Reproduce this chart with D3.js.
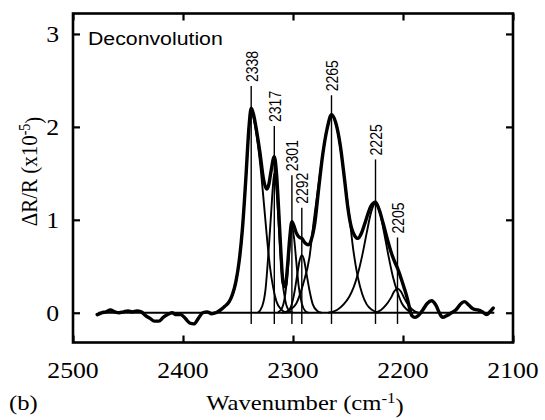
<!DOCTYPE html>
<html>
<head>
<meta charset="utf-8">
<script src="https://cdn.jsdelivr.net/npm/d3@7"></script>
<style>
  body { margin: 0; background: #fff; }
</style>
</head>
<body>
<div id="grafica_deconv"></div>
<script>
// ---- data (wavenumber cm-1, dR/R x1e-5) ----
var xTicks = [2500, 2400, 2300, 2200, 2100];
var yTicks = [0, 1, 2, 3];

var peakPos = [2338, 2317, 2301, 2292, 2265, 2225, 2205];
var peakTop = [2.44, 2.01, 1.48, 1.13, 2.34, 1.65, 0.81];

// measured spectrum (thick line)
var totalW = [2478, 2474, 2470, 2466, 2462, 2458, 2454, 2450, 2446, 2442, 2438, 2434, 2430, 2426, 2422, 2418, 2414, 2410, 2406, 2402,
              2398, 2394, 2390, 2386, 2382, 2378, 2374, 2370, 2366, 2362, 2358, 2355, 2352, 2349, 2346, 2343, 2340, 2338, 2336, 2333,
              2330, 2327, 2324, 2322, 2320, 2317, 2315, 2313, 2311, 2309, 2307, 2305, 2303, 2301, 2299, 2297, 2294, 2292, 2289, 2286,
              2283, 2280, 2277, 2273, 2269, 2265, 2261, 2257, 2253, 2250, 2247, 2244, 2241, 2238, 2235, 2232, 2229, 2225, 2222, 2218,
              2214, 2211, 2208, 2205, 2202, 2199, 2196, 2194, 2192, 2189, 2186, 2182, 2178, 2174, 2170, 2167, 2164, 2160, 2156, 2152,
              2148, 2144, 2140, 2136, 2132, 2128, 2124, 2121, 2118];
var totalV = [-0.02, 0.0, 0.01, 0.03, 0.01, 0.0, 0.01, 0.02, 0.01, 0.02, 0.01, -0.03, -0.06, -0.09, -0.09, -0.05, -0.02, 0.0, -0.02, -0.02,
              -0.06, -0.11, -0.12, -0.06, 0.0, 0.01, -0.01, 0.0, 0.03, 0.07, 0.12, 0.2, 0.33, 0.55, 0.9, 1.42, 2.0, 2.2, 2.14, 1.95,
              1.72, 1.45, 1.33, 1.38, 1.52, 1.68, 1.5, 1.1, 0.65, 0.32, 0.28, 0.5, 0.8, 0.98, 0.93, 0.86, 0.81, 0.8, 0.75, 0.73,
              0.8, 0.98, 1.3, 1.7, 1.98, 2.13, 2.04, 1.8, 1.42, 1.12, 0.92, 0.83, 0.8, 0.85, 0.95, 1.06, 1.15, 1.19, 1.12, 0.96,
              0.78, 0.66, 0.56, 0.48, 0.38, 0.27, 0.15, 0.05, -0.03, -0.05, -0.03, 0.03, 0.1, 0.13, 0.08, 0.0, -0.05, -0.03, 0.0, 0.03,
              0.09, 0.12, 0.08, 0.04, 0.03, 0.01, -0.02, 0.01, 0.05];

// fitted components (thin lines), [wavenumber, value]
var comp2338 = [[2372, 0], [2366, 0.02], [2362, 0.07], [2358, 0.12], [2354, 0.22], [2351, 0.38], [2348, 0.65], [2345, 1.05],
                [2342, 1.6], [2340, 2.0], [2338, 2.17], [2336, 2.1], [2333, 1.9], [2330, 1.62], [2327, 1.25], [2324, 0.85],
                [2321, 0.5], [2318, 0.27], [2315, 0.12], [2311, 0.04], [2306, 0]];
var comp2317 = [[2332, 0], [2328, 0.07], [2325, 0.25], [2322, 0.7], [2320, 1.05], [2318, 1.4], [2317, 1.5], [2316, 1.45],
                [2314, 1.15], [2312, 0.75], [2310, 0.4], [2307, 0.13], [2304, 0.03], [2300, 0]];
var comp2301 = [[2314, 0], [2310, 0.05], [2307, 0.2], [2305, 0.42], [2303, 0.72], [2301, 0.93], [2299, 0.8], [2297, 0.55],
                [2295, 0.3], [2292, 0.1], [2289, 0.02], [2286, 0]];
var comp2292 = [[2306, 0], [2302, 0.06], [2299, 0.2], [2296, 0.42], [2294, 0.56], [2292, 0.62], [2290, 0.57], [2288, 0.44],
                [2285, 0.24], [2282, 0.09], [2278, 0.02], [2274, 0]];
var comp2265 = [[2310, 0], [2303, 0.03], [2297, 0.1], [2291, 0.3], [2285, 0.6], [2281, 1.0], [2277, 1.36], [2273, 1.7],
                [2269, 1.98], [2265, 2.12], [2261, 2.03], [2257, 1.78], [2253, 1.42], [2249, 1.06], [2245, 0.66], [2241, 0.38],
                [2237, 0.2], [2233, 0.09], [2228, 0.03], [2222, 0]];
var comp2225 = [[2268, 0], [2260, 0.03], [2254, 0.09], [2249, 0.17], [2245, 0.27], [2241, 0.42], [2237, 0.62], [2233, 0.86],
                [2229, 1.08], [2225, 1.18], [2221, 1.08], [2217, 0.85], [2213, 0.6], [2209, 0.38], [2205, 0.22], [2201, 0.1],
                [2197, 0.04], [2192, 0]];
var comp2205 = [[2225, 0], [2220, 0.03], [2215, 0.09], [2211, 0.16], [2208, 0.23], [2205, 0.26], [2202, 0.23], [2199, 0.16],
                [2195, 0.08], [2190, 0.02], [2186, 0]];

var components = [comp2338, comp2317, comp2301, comp2292, comp2265, comp2225, comp2205];

// ---- layout ----
var w_full = 545,
    h_full = 420;

var margin = {
        top: 13.5,
        right: 32,
        bottom: 77.5,
        left: 73
    };

var w = w_full - margin.left - margin.right,
    h = h_full - margin.top - margin.bottom;

var serif = "'Times New Roman', 'Liberation Serif', Times, serif",
    sans = "Helvetica, Arial, 'Liberation Sans', sans-serif",
    stretch = "scale(1.12,1)";   // the scan is a bit wider than tall

var svgC = d3.select("#grafica_deconv")
    .append("svg")
    .attr("width", w_full)
    .attr("height", h_full)
    .append("g")
    .attr("transform", "translate(" + margin.left + "," + margin.top + ")");

var x = d3.scaleLinear()
    .domain([2500, 2100])
    .range([0, w]);

var y = d3.scaleLinear()
    .domain([-0.32, 3.22])
    .range([h, 0]);

// inward ticks on all four sides
function styleAxis(g) {
    g.select(".domain").remove();
    g.selectAll(".tick line").attr("stroke", "#000").attr("stroke-width", 2.2);
    g.selectAll(".tick text").remove();
}

svgC.append("g")
    .attr("transform", "translate(0," + h + ")")
    .call(d3.axisBottom(x).tickValues(xTicks).tickSize(-7))
    .call(styleAxis);

svgC.append("g")
    .call(d3.axisTop(x).tickValues(xTicks).tickSize(-7))
    .call(styleAxis);

svgC.append("g")
    .call(d3.axisLeft(y).tickValues(yTicks).tickSize(-7))
    .call(styleAxis);

svgC.append("g")
    .attr("transform", "translate(" + w + ",0)")
    .call(d3.axisRight(y).tickValues(yTicks).tickSize(-7))
    .call(styleAxis);

// frame
svgC.append("rect")
    .attr("x", 0)
    .attr("y", 0)
    .attr("width", w)
    .attr("height", h)
    .attr("fill", "none")
    .attr("stroke", "#000")
    .attr("stroke-width", 2.6);

// tick labels
svgC.selectAll(".xlab")
    .data(xTicks)
    .enter()
    .append("text")
    .attr("class", "xlab")
    .attr("transform", function(d) { return "translate(" + x(d) + "," + (h + 35.5) + ") " + stretch; })
    .attr("text-anchor", "middle")
    .style("font-family", serif)
    .style("font-size", "23px")
    .text(function(d) { return d; });

svgC.selectAll(".ylab")
    .data(yTicks)
    .enter()
    .append("text")
    .attr("class", "ylab")
    .attr("transform", function(d) { return "translate(-14," + y(d) + ") " + stretch; })
    .attr("text-anchor", "end")
    .attr("dy", "0.35em")
    .style("font-family", serif)
    .style("font-size", "23px")
    .text(function(d) { return d; });

// zero line (component baselines)
svgC.append("line")
    .attr("x1", x(2477))
    .attr("x2", x(2117))
    .attr("y1", y(0))
    .attr("y2", y(0))
    .attr("stroke", "#000")
    .attr("stroke-width", 2.2);

// peak position markers
svgC.selectAll(".pk")
    .data(peakPos)
    .enter()
    .append("line")
    .attr("class", "pk")
    .attr("x1", function(d) { return x(d); })
    .attr("x2", function(d) { return x(d); })
    .attr("y1", y(-0.12))
    .attr("y2", function(d, i) { return y(peakTop[i]); })
    .attr("stroke", "#000")
    .attr("stroke-width", 1.4);

svgC.selectAll(".pklab")
    .data(peakPos)
    .enter()
    .append("text")
    .attr("class", "pklab")
    .attr("transform", function(d, i) {
        return "translate(" + (x(d) + 6.5) + "," + (y(peakTop[i]) - 4) + ") " + stretch + " rotate(-90)";
    })
    .attr("text-anchor", "start")
    .style("font-family", sans)
    .style("font-size", "14px")
    .text(function(d) { return d; });

// components
var compLine = d3.line()
    .curve(d3.curveMonotoneX)
    .x(function(d) { return x(d[0]); })
    .y(function(d) { return y(d[1]); });

svgC.selectAll(".comp")
    .data(components)
    .enter()
    .append("path")
    .attr("class", "comp")
    .attr("fill", "none")
    .attr("stroke", "#000")
    .attr("stroke-width", 1.9)
    .attr("d", compLine);

// measured spectrum
svgC.append("path")
    .datum(totalW)
    .attr("fill", "none")
    .attr("stroke", "#000")
    .attr("stroke-width", 3.4)
    .attr("stroke-linejoin", "round")
    .attr("stroke-linecap", "round")
    .attr("d", d3.line()
        .curve(d3.curveMonotoneX)
        .x(function(d) { return x(d); })
        .y(function(d, i) { return y(totalV[i]); })
    );

// texts
svgC.append("text")
    .attr("transform", "translate(15,31) " + stretch)
    .style("font-family", sans)
    .style("font-size", "19px")
    .text("Deconvolution");

var xtitle = svgC.append("text")
    .attr("transform", "translate(" + (x(2300) + 12) + "," + (h + 67) + ") " + stretch)
    .attr("text-anchor", "middle")
    .style("font-family", serif)
    .style("font-size", "22px")
    .text("Wavenumber (cm");
xtitle.append("tspan")
    .attr("dy", "-0.45em")
    .style("font-size", "15px")
    .text("-1");
xtitle.append("tspan")
    .attr("dy", "0.45em")
    .text(")");

svgC.append("text")
    .attr("transform", "translate(-64," + (h + 67) + ") " + stretch)
    .style("font-family", serif)
    .style("font-size", "22px")
    .text("(b)");

var ytitle = svgC.append("text")
    .attr("transform", "translate(-36," + y(1.52) + ") " + stretch + " rotate(-90)")
    .attr("text-anchor", "middle")
    .style("font-family", serif)
    .style("font-size", "21px")
    .text("\u0394R/R (x10");
ytitle.append("tspan")
    .attr("dy", "-0.45em")
    .style("font-size", "14px")
    .text("-5");
ytitle.append("tspan")
    .attr("dy", "0.45em")
    .text(")");
</script>
</body>
</html>
